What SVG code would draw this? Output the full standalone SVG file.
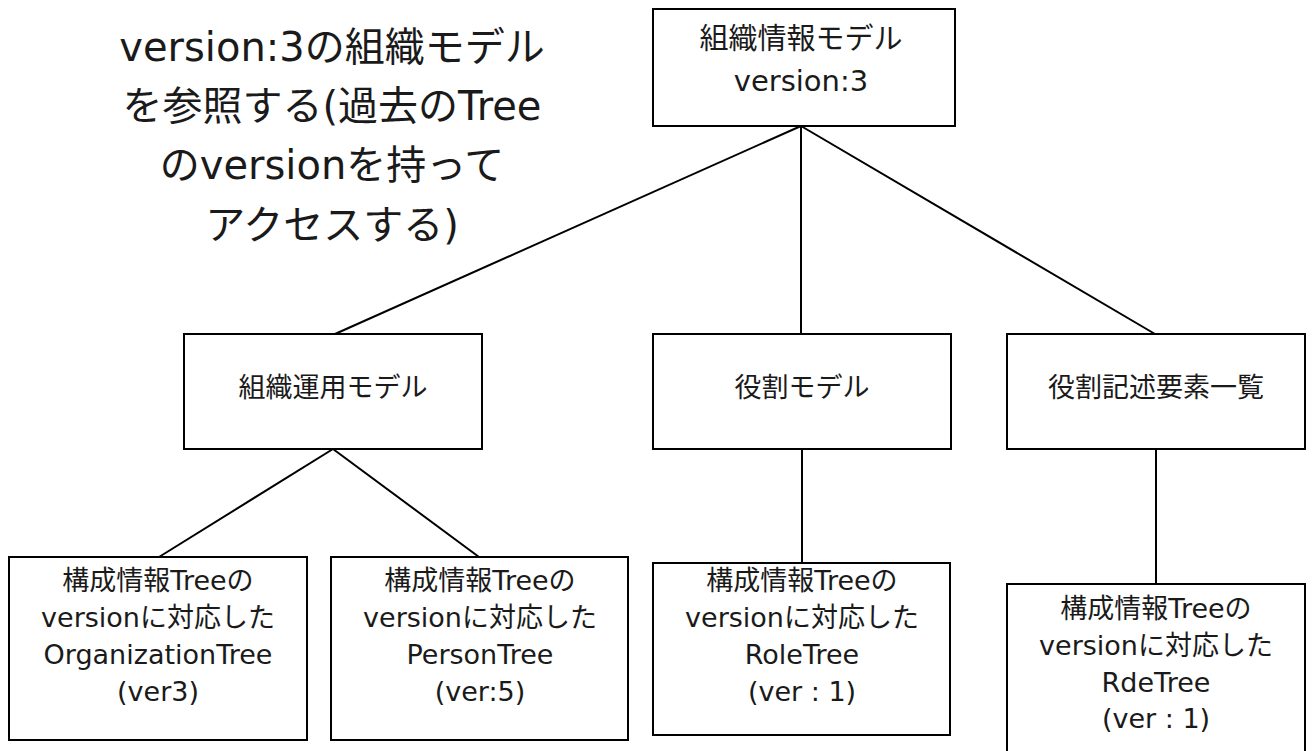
<svg xmlns="http://www.w3.org/2000/svg" width="1312" height="751" viewBox="0 0 1312 751">
<style>
.box{fill:#fff;stroke:#000;stroke-width:2}
.edge{stroke:#000;stroke-width:2;fill:none}
text{font-family:"DejaVu Sans","Noto Sans CJK JP",sans-serif;fill:#1a1a1a;text-anchor:middle}
.t27{font-size:27px}
.t29{font-size:29px}
.t40{font-size:40px}
</style>
<rect width="1312" height="751" fill="#fff"/>
<g id="connectors">
<line class="edge" x1="801" y1="126" x2="335" y2="334"/>
<line class="edge" x1="801" y1="126" x2="801" y2="334"/>
<line class="edge" x1="801" y1="126" x2="1155" y2="334"/>
<line class="edge" x1="333" y1="449" x2="159" y2="557"/>
<line class="edge" x1="333" y1="449" x2="479" y2="557"/>
<line class="edge" x1="802" y1="449" x2="802" y2="563"/>
<line class="edge" x1="1156" y1="449" x2="1156" y2="584"/>
</g>
<g id="note">
<text class="t40" x="332" y="61">version:3の組織モデル</text>
<text class="t40" x="332" y="120">を参照する(過去のTree</text>
<text class="t40" x="332" y="179">のversionを持って</text>
<text class="t40" x="332" y="239">アクセスする)</text>
</g>
<g id="n-top">
<rect class="box" x="653" y="9" width="302" height="117"/>
<text class="t29" x="801" y="49">組織情報モデル</text>
<text class="t29" x="801" y="91">version:3</text>
</g>
<g id="n-ops">
<rect class="box" x="184" y="334" width="298" height="115"/>
<text class="t27" x="333" y="397">組織運用モデル</text>
</g>
<g id="n-role">
<rect class="box" x="653" y="334" width="298" height="115"/>
<text class="t27" x="802" y="397">役割モデル</text>
</g>
<g id="n-rde">
<rect class="box" x="1007" y="334" width="298" height="115"/>
<text class="t27" x="1156" y="397">役割記述要素一覧</text>
</g>
<g id="n-org">
<rect class="box" x="9" y="557" width="298" height="183"/>
<text class="t27" x="158" y="590">構成情報Treeの</text>
<text class="t27" x="158" y="627">versionに対応した</text>
<text class="t27" x="158" y="664">OrganizationTree</text>
<text class="t27" x="158" y="701">(ver3)</text>
</g>
<g id="n-person">
<rect class="box" x="331" y="557" width="297" height="183"/>
<text class="t27" x="480" y="590">構成情報Treeの</text>
<text class="t27" x="480" y="627">versionに対応した</text>
<text class="t27" x="480" y="664">PersonTree</text>
<text class="t27" x="480" y="701">(ver:5)</text>
</g>
<g id="n-roletree">
<rect class="box" x="653" y="563" width="297" height="172"/>
<text class="t27" x="802" y="590">構成情報Treeの</text>
<text class="t27" x="802" y="627">versionに対応した</text>
<text class="t27" x="802" y="664">RoleTree</text>
<text class="t27" x="802" y="701">(ver : 1)</text>
</g>
<g id="n-rdetree">
<rect class="box" x="1007" y="584" width="298" height="180"/>
<text class="t27" x="1156" y="618">構成情報Treeの</text>
<text class="t27" x="1156" y="655">versionに対応した</text>
<text class="t27" x="1156" y="692">RdeTree</text>
<text class="t27" x="1156" y="728">(ver : 1)</text>
</g>
</svg>
